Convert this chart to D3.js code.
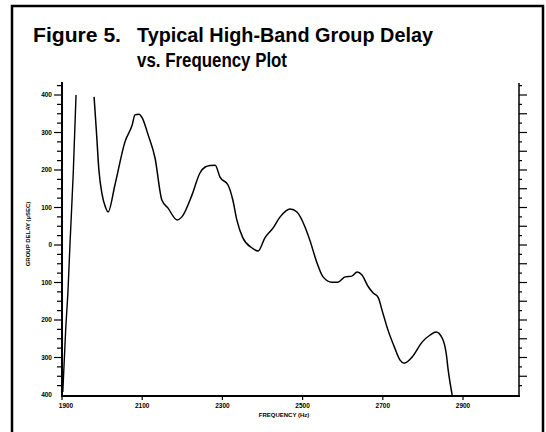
<!DOCTYPE html>
<html>
<head>
<meta charset="utf-8">
<script src="https://cdn.jsdelivr.net/npm/d3@7"></script>
<style>
  body { margin: 0; background: #fff; }
  text { font-family: "Liberation Sans", Arial, sans-serif; fill: #000; }
</style>
</head>
<body>
<div id="chart"></div>
<script>
// Datos (frecuencia en Hz, retardo de grupo en µs)
const riseFreq = [1902, 1909, 1915, 1920, 1928, 1935];
const riseDelay = [-392, -230, -120, 5, 190, 400];

const mainFreq = [1980, 1986, 1992, 2000, 2008, 2015, 2032, 2057, 2075, 2082, 2092, 2100, 2115,
  2132, 2149, 2164, 2187, 2199, 2224, 2244, 2257, 2270, 2282, 2294, 2314, 2326, 2336,
  2351, 2374, 2389, 2406, 2426, 2444, 2469, 2486, 2506, 2518, 2536, 2551, 2573, 2588,
  2606, 2623, 2636, 2648, 2663, 2676, 2688, 2700, 2713, 2730, 2743, 2753, 2773, 2798,
  2818, 2833, 2848, 2858, 2863, 2873];
const mainDelay = [395, 300, 200, 135, 102, 88, 160, 275, 320, 347, 349, 339, 293,
  232, 120, 99, 67, 75, 133, 192, 208, 212, 213, 181, 160, 120, 67,
  19, -8, -16, 19, 45, 75, 96, 88, 48, 13, -48, -85, -99, -99,
  -85, -83, -72, -80, -110, -128, -139, -181, -227, -275, -307, -315, -299, -259,
  -240, -232, -248, -288, -333, -400];

// Marcas de los ejes
const xTickValues = [1900, 2100, 2300, 2500, 2700, 2900];
const xTickLabels = ["1900", "2100", "2300", "2500", "2700", "2900"];
const yLabelValues = [400, 300, 200, 100, 0, -100, -200, -300, -400];
const yLabelTexts = ["400", "300", "200", "100", "0", "100", "200", "300", "400"];

const W = 546, H = 432;
const svg = d3.select("#chart").append("svg")
  .attr("width", W).attr("height", H);

// Marco de la figura
svg.append("path")
  .attr("d", "M12,432 L12,6 L543,6 L543,432")
  .style("fill", "none").style("stroke", "#000").style("stroke-width", 2.5);

// Título
svg.append("text").attr("x", 33).attr("y", 42)
  .style("font-size", "20px").style("font-weight", "bold")
  .attr("textLength", 88).attr("lengthAdjust", "spacingAndGlyphs")
  .text("Figure 5.");
svg.append("text").attr("x", 137).attr("y", 42)
  .style("font-size", "20px").style("font-weight", "bold")
  .attr("textLength", 296).attr("lengthAdjust", "spacingAndGlyphs")
  .text("Typical High-Band Group Delay");
svg.append("text").attr("x", 137).attr("y", 67)
  .style("font-size", "20px").style("font-weight", "bold")
  .attr("textLength", 150).attr("lengthAdjust", "spacingAndGlyphs")
  .text("vs. Frequency Plot");

// Escalas
const x = d3.scaleLinear().domain([1900, 2900]).range([62, 463]);
const y = d3.scaleLinear().domain([-400, 400]).range([395, 95]);
const xEnd = 520;

// Ejes
svg.append("line").attr("x1", 62).attr("x2", xEnd).attr("y1", 396).attr("y2", 396)
  .style("stroke", "#000").style("stroke-width", 2);
svg.append("line").attr("x1", 62).attr("x2", 62).attr("y1", 82).attr("y2", 397)
  .style("stroke", "#000").style("stroke-width", 2);
svg.append("line").attr("x1", 519).attr("x2", 519).attr("y1", 83).attr("y2", 397)
  .style("stroke", "#000").style("stroke-width", 1.5);

// Marcas del eje izquierdo (cada 25 µs)
const leftTicks = d3.range(-375, 426, 25);
svg.selectAll(".ltick").data(leftTicks).enter().append("line")
  .attr("x1", d => d % 100 === 0 ? 54 : 57).attr("x2", 62)
  .attr("y1", d => y(d)).attr("y2", d => y(d))
  .style("stroke", "#000").style("stroke-width", 1.2);

// Marcas del eje derecho
svg.selectAll(".rtick").data(leftTicks).enter().append("line")
  .attr("x1", 519).attr("x2", d => d % 50 === 0 ? 527 : 522)
  .attr("y1", d => y(d)).attr("y2", d => y(d))
  .style("stroke", "#000").style("stroke-width", 1.2);

// Etiquetas del eje Y
svg.selectAll(".ylab").data(yLabelValues).enter().append("text")
  .attr("x", 52).attr("y", d => y(d)).attr("dy", "0.35em")
  .attr("text-anchor", "end")
  .style("font-size", "6.5px").style("font-weight", "bold")
  .text((d, i) => yLabelTexts[i]);

svg.append("text")
  .attr("transform", "translate(30,234) rotate(-90)")
  .attr("text-anchor", "middle")
  .style("font-size", "6px").style("font-weight", "bold")
  .text("GROUP DELAY (µSEC)");

// Eje X
svg.selectAll(".xtick").data(xTickValues).enter().append("line")
  .attr("x1", d => x(d)).attr("x2", d => x(d)).attr("y1", 396).attr("y2", 400)
  .style("stroke", "#000").style("stroke-width", 1.2);
svg.selectAll(".xlab").data(xTickValues).enter().append("text")
  .attr("x", (d, i) => x(d) + (i === 0 ? 4 : 0)).attr("y", 408)
  .attr("text-anchor", "middle")
  .style("font-size", "6.5px").style("font-weight", "bold")
  .text((d, i) => xTickLabels[i]);
svg.append("text").attr("x", 284).attr("y", 417)
  .attr("text-anchor", "middle")
  .style("font-size", "6px").style("font-weight", "bold")
  .text("FREQUENCY (Hz)");

// Curvas
const line = d3.line()
  .x(d => x(d[0])).y(d => y(d[1]))
  .curve(d3.curveMonotoneX);

const rise = riseFreq.map((f, i) => [f, riseDelay[i]]);
const main = mainFreq.map((f, i) => [f, mainDelay[i]]);

svg.append("path").attr("d", line(rise))
  .style("fill", "none").style("stroke", "#000").style("stroke-width", 1.4);
svg.append("path").attr("d", line(main))
  .style("fill", "none").style("stroke", "#000").style("stroke-width", 1.5);
</script>
</body>
</html>
